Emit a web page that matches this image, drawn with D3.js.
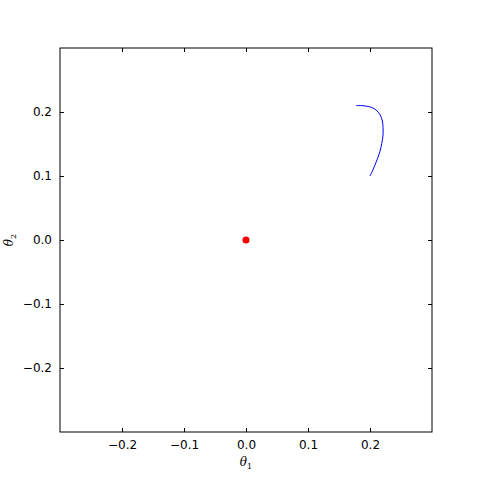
<!DOCTYPE html>
<html>
<head>
<meta charset="utf-8">
<script src="https://cdn.jsdelivr.net/npm/d3@7"></script>
<style>
  body { margin: 0; background: #fff; }
  .tick text { font-family: "DejaVu Sans", sans-serif; font-size: 12px; fill: #000; }
  .lab { font-family: "DejaVu Serif", serif; font-style: italic; font-size: 12px; }
</style>
</head>
<body>
<div id="chart"></div>
<script>
// trajectory of (theta1, theta2)
var theta1 = [0.200, 0.204, 0.208, 0.212, 0.216, 0.219, 0.221, 0.221, 0.220, 0.216, 0.210, 0.203, 0.195, 0.187, 0.178];
var theta2 = [0.100, 0.108, 0.117, 0.127, 0.138, 0.151, 0.164, 0.176, 0.186, 0.196, 0.203, 0.207, 0.209, 0.210, 0.210];
var optimum = [[0, 0]];
var xticks = [-0.2, -0.1, 0.0, 0.1, 0.2];
var yticks = [-0.2, -0.1, 0.0, 0.1, 0.2];

var mLeft = 60, mTop = 48, w = 372, h = 384;

var x = d3.scaleLinear().domain([-0.3, 0.3]).range([0, w]);
var y = d3.scaleLinear().domain([-0.3, 0.3]).range([h, 0]);

var fmt = function(d){ return d3.format(".1f")(d).replace("-", "\u2212"); };

var svg = d3.select("#chart").append("svg")
    .attr("width", 480)
    .attr("height", 480);
var vis = svg.append("g").attr("transform", "translate(" + mLeft + "," + mTop + ")");

// ticks point inward, on all four sides
vis.append("g")
    .attr("transform", "translate(0," + h + ")")
    .call(d3.axisBottom(x).tickValues(xticks).tickFormat(fmt).tickSizeInner(-4).tickSizeOuter(0).tickPadding(8));
vis.append("g")
    .call(d3.axisTop(x).tickValues(xticks).tickFormat("").tickSizeInner(-4).tickSizeOuter(0));
vis.append("g")
    .call(d3.axisLeft(y).tickValues(yticks).tickFormat(fmt).tickSizeInner(-4).tickSizeOuter(0).tickPadding(8));
vis.append("g")
    .attr("transform", "translate(" + w + ",0)")
    .call(d3.axisRight(y).tickValues(yticks).tickFormat("").tickSizeInner(-4).tickSizeOuter(0));
vis.selectAll(".domain").remove();

vis.append("rect")
    .attr("width", w).attr("height", h)
    .attr("fill", "none").attr("stroke", "#000").attr("stroke-width", 1);

var line = d3.line()
    .x(function(d){ return x(d[0]); })
    .y(function(d){ return y(d[1]); })
    .curve(d3.curveCatmullRom);

vis.append("path")
    .datum(d3.zip(theta1, theta2))
    .attr("d", line)
    .attr("fill", "none")
    .attr("stroke", "blue")
    .attr("stroke-width", 1);

vis.selectAll("circle")
    .data(optimum)
  .enter().append("circle")
    .attr("cx", function(d){ return x(d[0]); })
    .attr("cy", function(d){ return y(d[1]); })
    .attr("r", 3.5)
    .attr("fill", "red");

svg.append("text").attr("class", "lab")
    .attr("x", mLeft + w / 2).attr("y", 466)
    .attr("text-anchor", "middle")
    .html("θ<tspan dy='3' font-size='8' font-style='normal'>1</tspan>");

svg.append("text").attr("class", "lab")
    .attr("transform", "translate(13," + (mTop + h / 2) + ") rotate(-90)")
    .attr("text-anchor", "middle")
    .html("θ<tspan dy='3' font-size='8' font-style='normal'>2</tspan>");
</script>
</body>
</html>
